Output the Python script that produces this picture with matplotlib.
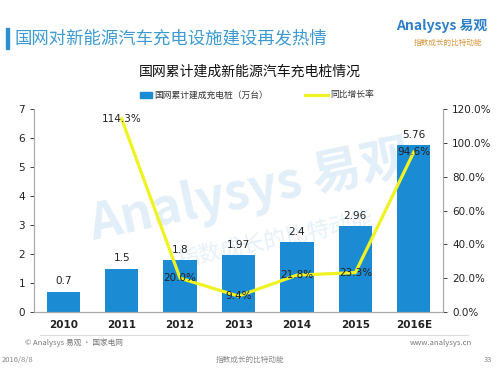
import matplotlib.pyplot as plt
from matplotlib.patches import Rectangle
from matplotlib.lines import Line2D

plt.rcParams['font.family'] = ['Noto Sans CJK SC', 'DejaVu Sans']

# data
years = ['2010', '2011', '2012', '2013', '2014', '2015', '2016E']
piles = [0.7, 1.5, 1.8, 1.97, 2.4, 2.96, 5.76]
growth_years = ['2011', '2012', '2013', '2014', '2015', '2016E']
growth = [114.3, 20.0, 9.4, 21.8, 23.3, 94.6]

bar_color = '#1b8bd3'
line_color = '#eef321'
num_font = ['DejaVu Sans', 'Noto Sans CJK SC']

fig = plt.figure(figsize=(5, 3.75), dpi=100)
ax = fig.add_axes([0.068, 0.168, 0.818, 0.541])
ax2 = ax.twinx()

x = list(range(len(years)))
ax.bar(x, piles, width=0.57, color=bar_color, zorder=2)
for xi, v in zip(x, piles):
    ax.text(xi, v + 0.18, f'{v:g}', ha='center', va='bottom', fontsize=7.5,
            family=num_font, color='#222222', zorder=3)

gx = [years.index(y) for y in growth_years]
ax2.plot(gx, growth, color=line_color, lw=2.3, zorder=3)
for xi, v in zip(gx, growth):
    ax2.text(xi, v, f'{v:.1f}%', ha='center', va='center', fontsize=7.5,
             family=num_font, color='#222222', zorder=4)

ax.set_xlim(-0.5, len(years) - 0.5)
ax.set_ylim(0, 7)
ax2.set_ylim(0, 120)
ax.set_yticks(range(0, 8))
ax2.set_yticks(range(0, 121, 20))
ax2.set_yticklabels([f'{t:.1f}%' for t in range(0, 121, 20)])
ax.set_xticks(x)
ax.set_xticklabels(years, fontweight='bold')

for a in (ax, ax2):
    a.tick_params(labelsize=7.5, colors='#222222', length=3, width=0.6)
    for s in a.spines.values():
        s.set_color('#aaaaaa')
        s.set_linewidth(0.8)
    a.spines['top'].set_visible(False)
    for lab in a.get_xticklabels() + a.get_yticklabels():
        lab.set_family(num_font)
ax.tick_params(axis='x', length=0, pad=6)
ax.set_zorder(ax2.get_zorder() - 1)
ax2.patch.set_visible(False)

# watermark, behind the bars
ax.text(0.5, 0.49, 'Analysys 易观', fontsize=36, color='#e2eff8', rotation=12,
        ha='center', va='center', fontweight='bold', zorder=1,
        transform=fig.transFigure, clip_on=False)
ax.text(0.55, 0.36, '指数成长的比特动能', fontsize=16, color='#e6f1f9', rotation=12,
        ha='center', va='center', zorder=1, transform=fig.transFigure,
        clip_on=False)

# header
fig.add_artist(Rectangle((0.012, 0.87), 0.005, 0.055, transform=fig.transFigure,
                         color='#2d8fd0'))
fig.text(0.028, 0.897, '国网对新能源汽车充电设施建设再发热情', fontsize=12.5,
         color='#3d9bd3', va='center', ha='left')
fig.text(0.975, 0.93, 'Analysys 易观', fontsize=10, color='#2d7fc8',
         ha='right', va='center', fontweight='bold')
fig.text(0.965, 0.885, '指数成长的比特动能', fontsize=5.5, color='#d9963a',
         ha='right', va='center')
fig.text(0.5, 0.81, '国网累计建成新能源汽车充电桩情况', fontsize=10,
         color='#111111', ha='center', va='center')

# legend
fig.add_artist(Rectangle((0.28, 0.738), 0.024, 0.018, transform=fig.transFigure,
                         color=bar_color))
fig.text(0.308, 0.747, '国网累计建成充电桩（万台）', fontsize=6.3,
         color='#333333', va='center')
fig.add_artist(Line2D([0.61, 0.655], [0.747, 0.747], transform=fig.transFigure,
                      color=line_color, lw=2.3))
fig.text(0.66, 0.747, '同比增长率', fontsize=6.3, color='#333333', va='center')

# footer
fig.add_artist(Line2D([0.08, 0.935], [0.107, 0.107], transform=fig.transFigure,
                      color='#dddddd', lw=0.8))
fig.text(0.05, 0.085, '© Analysys 易观 · 国家电网', fontsize=5.5, color='#777777',
         va='center')
fig.text(0.945, 0.085, 'www.analysys.cn', fontsize=5.5, color='#777777',
         va='center', ha='right')
fig.text(0.004, 0.04, '2016/8/8', fontsize=5.5, color='#888888', va='center')
fig.text(0.5, 0.04, '指数成长的比特动能', fontsize=5.5, color='#888888',
         va='center', ha='center')
fig.text(0.985, 0.04, '33', fontsize=5.5, color='#888888', va='center', ha='right')

fig.savefig('out.png', dpi=100)
